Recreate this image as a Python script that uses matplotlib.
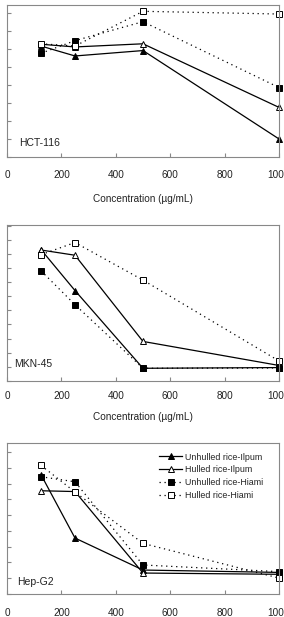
import matplotlib
matplotlib.use("Agg")
import matplotlib.pyplot as plt

plt.rcParams['font.family'] = ['Liberation Sans', 'DejaVu Sans']

conc = [125, 250, 500, 1000]
xticks = [0, 200, 400, 600, 800, 1000]
series_names = ["Unhulled rice-Ilpum", "Hulled rice-Ilpum", "Unhulled rice-Hiami", "Hulled rice-Hiami"]

cells = ["HCT-116", "MKN-45", "Hep-G2"]

hct_unhulled_ilpum = [123, 112, 118, 20]
hct_hulled_ilpum = [125, 122, 125.5, 55]
hct_unhulled_hiami = [115, 129, 150, 77]
hct_hulled_hiami = [125.5, 123, 161.5, 158.5]

mkn_unhulled_ilpum = [93, 64, 9, 9.5]
mkn_hulled_ilpum = [92.7, 89, 28, 11]
mkn_unhulled_hiami = [78, 54, 9, 9.2]
mkn_hulled_hiami = [89.4, 98, 71.4, 14.2]

hep_unhulled_ilpum = [75.7, 35.5, 15.2, 13.7]
hep_hulled_ilpum = [65.5, 65, 13.3, 12.5]
hep_unhulled_hiami = [74.4, 71.2, 18.4, 14.2]
hep_hulled_hiami = [81.6, 64.7, 32.1, 10.1]

panel_data = [
    [hct_unhulled_ilpum, hct_hulled_ilpum, hct_unhulled_hiami, hct_hulled_hiami],
    [mkn_unhulled_ilpum, mkn_hulled_ilpum, mkn_unhulled_hiami, mkn_hulled_hiami],
    [hep_unhulled_ilpum, hep_hulled_ilpum, hep_unhulled_hiami, hep_hulled_hiami],
]
ylims = [168.5, 110.4, 95.8]
ystep = [20, 10, 10]

W, H = 284, 617
fig = plt.figure(figsize=(W / 100, H / 100), dpi=100)

# pixel boxes (top, bottom)
boxes = [(5, 157), (225, 381), (443, 594)]
left_px, right_px = 7, 279
label_pos = [(0.045, 0.092), (0.026, 0.109), (0.036, 0.08)]
tick_pads = [9, 7.5, 10]
xlabel_pads = [10.5, 7.5]

styles = [
    dict(marker='^', mfc='black', mec='black', ls='-'),
    dict(marker='^', mfc='white', mec='black', ls='-'),
    dict(marker='s', mfc='black', mec='black', ls=(0, (1, 3))),
    dict(marker='s', mfc='white', mec='black', ls=(0, (1, 3))),
]
spine_col = '#888888'
txt_col = '#222222'

for i, (top, bot) in enumerate(boxes):
    ax = fig.add_axes([left_px / W, 1 - bot / H, (right_px - left_px) / W, (bot - top) / H])
    for j, vals in enumerate(panel_data[i]):
        st = styles[j]
        ax.plot(conc, vals, color='black', lw=0.9, ms=4.8, mew=0.7,
                label=series_names[j], clip_on=False, **st)
    ax.set_xlim(0, 1000)
    ax.set_ylim(0, ylims[i])
    ax.set_xticks(xticks)
    ax.set_xticklabels([str(t) for t in xticks])
    yt = list(range(0, int(ylims[i]) + 1, ystep[i]))
    ax.set_yticks(yt)
    ax.tick_params(axis='both', direction='in', length=3, color=spine_col, width=0.8,
                   labelsize=7.2, labelcolor=txt_col)
    ax.tick_params(axis='x', pad=tick_pads[i])
    ax.tick_params(axis='y', labelleft=False)
    for s in ax.spines.values():
        s.set_color(spine_col)
        s.set_linewidth(0.8)
    ax.text(label_pos[i][0], label_pos[i][1], cells[i], transform=ax.transAxes, fontsize=7.5,
            color=txt_col, ha='left', va='center')
    if i < 2:
        ax.set_xlabel("Concentration (\u00b5g/mL)", fontsize=7.2, color=txt_col,
                      labelpad=xlabel_pads[i])
    else:
        leg = ax.legend(loc='upper right', frameon=False, fontsize=6.4, handlelength=2.6,
                        handletextpad=0.3, labelspacing=0.42, borderaxespad=0.0,
                        bbox_to_anchor=(0.955, 0.96))
        for t in leg.get_texts():
            t.set_color(txt_col)

fig.savefig("out.png", dpi=100)
